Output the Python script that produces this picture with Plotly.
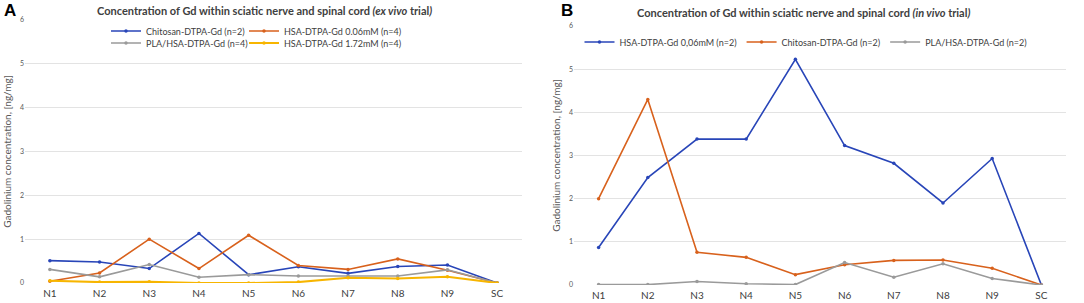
import plotly.graph_objects as go

categories = ["N1", "N2", "N3", "N4", "N5", "N6", "N7", "N8", "N9", "SC"]

# Panel A (ex vivo)
a_chitosan = [0.51, 0.48, 0.33, 1.13, 0.19, 0.37, 0.22, 0.375, 0.41, 0.0]
a_hsa006 = [0.04, 0.23, 1.00, 0.33, 1.09, 0.40, 0.31, 0.55, 0.29, 0.0]
a_pla = [0.31, 0.14, 0.42, 0.13, 0.19, 0.16, 0.16, 0.16, 0.30, 0.0]
a_hsa172 = [0.05, 0.02, 0.03, 0.0, 0.0, 0.02, 0.12, 0.10, 0.14, 0.0]

# Panel B (in vivo)
b_hsa006 = [0.87, 2.49, 3.38, 3.38, 5.23, 3.23, 2.82, 1.90, 2.93, 0.0]
b_chitosan = [2.00, 4.30, 0.76, 0.64, 0.24, 0.47, 0.57, 0.58, 0.39, 0.0]
b_pla = [0.01, 0.01, 0.08, 0.03, 0.01, 0.52, 0.18, 0.49, 0.15, 0.0]

y_ticks = [0, 1, 2, 3, 4, 5, 6]

BLUE = "#2845b8"
ORANGE = "#d8611c"
GRAY = "#9a9a9a"
YELLOW = "#f7b500"
FONT = "Lato"
W, H = 1084, 303

def px_x(p):
    return p / W

def px_y(p):
    return 1 - p / H

fig = go.Figure()

series = [
    ("Chitosan-DTPA-Gd (n=2)", a_chitosan, BLUE, "x", "y", "legend", 1.6),
    ("HSA-DTPA-Gd 0.06mM (n=4)", a_hsa006, ORANGE, "x", "y", "legend2", 1.6),
    ("PLA/HSA-DTPA-Gd (n=4)", a_pla, GRAY, "x", "y", "legend3", 1.6),
    ("HSA-DTPA-Gd 1.72mM (n=4)", a_hsa172, YELLOW, "x", "y", "legend4", 2.0),
    ("HSA-DTPA-Gd 0,06mM (n=2)", b_hsa006, BLUE, "x2", "y2", "legend5", 1.6),
    ("Chitosan-DTPA-Gd (n=2)", b_chitosan, ORANGE, "x2", "y2", "legend5", 1.6),
    ("PLA/HSA-DTPA-Gd (n=2)", b_pla, GRAY, "x2", "y2", "legend5", 1.6),
]
for name, vals, col, xa, ya, lg, lw in series:
    fig.add_trace(go.Scatter(
        x=categories, y=vals, name=name, mode="lines+markers",
        line=dict(color=col, width=lw), marker=dict(color=col, size=3.5),
        xaxis=xa, yaxis=ya, legend=lg,
    ))

leg_font = dict(family=FONT, size=9, color="#404040")
layout_legends = {}
# panel A legends: (text start px x, center px y)
for k, (tx, ty) in {"legend": (146, 31), "legend2": (284, 31),
                    "legend3": (146, 43), "legend4": (284, 43)}.items():
    layout_legends[k] = dict(
        x=px_x(tx - 40), y=px_y(ty), xanchor="left", yanchor="middle",
        orientation="h", bgcolor="rgba(0,0,0,0)", borderwidth=0,
        font=leg_font, itemclick=False, itemdoubleclick=False,
    )
layout_legends["legend5"] = dict(
    x=px_x(806), y=px_y(42), xanchor="center", yanchor="middle",
    orientation="h", bgcolor="rgba(0,0,0,0)", borderwidth=0,
    font=leg_font, itemclick=False, itemdoubleclick=False,
)

axis_common = dict(
    showgrid=True, gridcolor="#e3e3e3", gridwidth=1, zeroline=False,
    showline=False, ticks="", automargin=False,
)
xaxis_common = dict(type="category", range=[-0.5, 9.5], showgrid=False,
                    zeroline=False, showline=False, ticks="", automargin=False,
                    ticklabelstandoff=3,
                    tickfont=dict(family=FONT, size=10, color="#404040"))
ytitle = dict(text="Gadolinium concentration, [ng/mg]", standoff=6,
              font=dict(family=FONT, size=10, color="#595959"))
fig.update_layout(
    width=W, height=H, margin=dict(l=0, r=0, t=0, b=0),
    plot_bgcolor="white", paper_bgcolor="white",
    showlegend=True,
    xaxis=dict(domain=[px_x(25), px_x(522)], anchor="y", **xaxis_common),
    yaxis=dict(domain=[px_y(283), px_y(20)], range=[0, 6], tickvals=y_ticks,
               anchor="x", tickfont=dict(family=FONT, size=7, color="#595959"),
               title=ytitle, **axis_common),
    xaxis2=dict(domain=[px_x(574), px_x(1066)], anchor="y2", **xaxis_common),
    yaxis2=dict(domain=[px_y(285), px_y(26)], range=[0, 6], tickvals=y_ticks,
                anchor="x2", tickfont=dict(family=FONT, size=7, color="#595959"),
                title=ytitle, **axis_common),
    **layout_legends,
)

fig.add_annotation(text="<b>Concentration of Gd within sciatic nerve and spinal cord <i>(ex vivo</i> trial<i>)</i></b>",
                   x=px_x(264), y=px_y(11), xref="paper", yref="paper",
                   showarrow=False, xanchor="center", yanchor="middle",
                   font=dict(family=FONT, size=11, color="#404040"))
fig.add_annotation(text="<b>Concentration of Gd within sciatic nerve and spinal cord <i>(in vivo</i> trial<i>)</i></b>",
                   x=px_x(804), y=px_y(13), xref="paper", yref="paper",
                   showarrow=False, xanchor="center", yanchor="middle",
                   font=dict(family=FONT, size=11, color="#404040"))
fig.add_annotation(text="<b>A</b>", x=px_x(2), y=px_y(10.5), xref="paper", yref="paper",
                   showarrow=False, xanchor="left", yanchor="middle",
                   font=dict(family="Liberation Sans", size=17, color="black"))
fig.add_annotation(text="<b>B</b>", x=px_x(559), y=px_y(10.5), xref="paper", yref="paper",
                   showarrow=False, xanchor="left", yanchor="middle",
                   font=dict(family="Liberation Sans", size=17, color="black"))

# remove the browser's default 8px page margin so the figure fills the window
fig.write_html("out.html", config={"displayModeBar": False},
               post_script="document.body.style.margin='0';")
